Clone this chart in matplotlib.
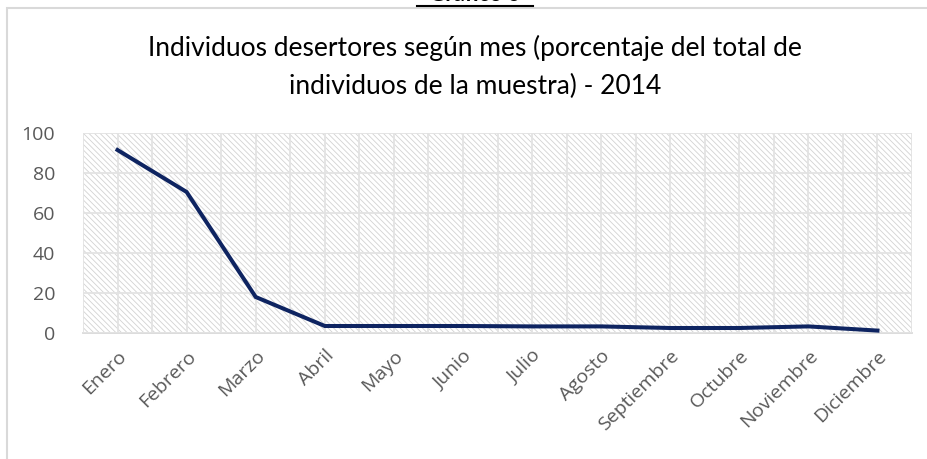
"""
grafico 6 - desertores segun mes
"""

import matplotlib
matplotlib.use("Agg")
import matplotlib.pyplot as plt
from matplotlib.patches import Rectangle

# data
meses = ["Enero", "Febrero", "Marzo", "Abril", "Mayo", "Junio", "Julio",
         "Agosto", "Septiembre", "Octubre", "Noviembre", "Diciembre"]
porcentaje = [91.5, 70.5, 18.0, 3.5, 3.5, 3.5, 3.3, 3.3, 2.5, 2.5, 3.3, 1.2]
y_ticks = [0, 20, 40, 60, 80, 100]

titulo = ("Individuos desertores según mes (porcentaje del total de\n"
          "individuos de la muestra) - 2014")

plt.rcParams["font.family"] = ["Lato", "DejaVu Sans"]
plt.rcParams["hatch.linewidth"] = 0.6

W, H = 927, 459
fig = plt.figure(figsize=(W / 100, H / 100), dpi=100)
ax = fig.add_axes([83 / W, 1 - 333 / H, (912 - 83) / W, 200 / H])

# hatched background of the plot area
bg = Rectangle((0, 0), 1, 1, transform=ax.transAxes, facecolor="white",
               edgecolor="#d2d2d2", hatch="\\\\\\\\\\\\", linewidth=0,
               zorder=0)
ax.add_patch(bg)

x = list(range(len(meses)))
ax.plot(x, porcentaje, color="#0e2461", linewidth=2.9,
        solid_joinstyle="miter", zorder=3)

ax.set_xlim(-0.5, len(meses) - 0.5)
ax.set_ylim(0, 100)
ax.set_yticks(y_ticks)
ax.set_xticks(x)
ax.set_xticks([i - 0.5 for i in range(len(meses) + 1)], minor=True)
ax.grid(True, which="both", color="#e3e3e3", linewidth=1.3, zorder=1)
ax.set_axisbelow(False)
for gl in ax.get_xgridlines() + ax.get_ygridlines():
    gl.set_zorder(1)

ax.set_xticklabels(meses, rotation=45, ha="right", rotation_mode="anchor",
                   fontfamily="Open Sans", fontsize=14, color="#595959")
ax.set_yticklabels([str(v) for v in y_ticks], fontfamily="Open Sans",
                   fontsize=14, color="#595959")
ax.tick_params(axis="both", which="both", length=0)
ax.tick_params(axis="y", pad=20)
ax.tick_params(axis="x", pad=10)

for s in ["top", "right", "left"]:
    ax.spines[s].set_visible(False)
ax.spines["bottom"].set_color("#d9d9d9")
ax.spines["bottom"].set_linewidth(1.3)

# title
fig.text(475 / W, 1 - 48 / H, titulo.split("\n")[0], ha="center",
         va="center", fontsize=19, color="black")
fig.text(475 / W, 1 - 86 / H, titulo.split("\n")[1], ha="center",
         va="center", fontsize=19, color="black")

# chart border and cropped heading above
fig.add_artist(Rectangle((7 / W, -0.1), 1.1, 1 - 8 / H + 0.1,
                         transform=fig.transFigure, fill=False,
                         edgecolor="#d9d9d9", linewidth=1.5))
fig.text(475 / W, 1 - 1 / H, "Gráfico 6", ha="center", va="baseline",
         fontsize=16, fontweight="bold", color="black")
fig.add_artist(plt.Line2D([417 / W, 533 / W], [1 - 6 / H, 1 - 6 / H],
                          transform=fig.transFigure, color="black",
                          linewidth=1.5))

fig.savefig("out.png", dpi=100)
